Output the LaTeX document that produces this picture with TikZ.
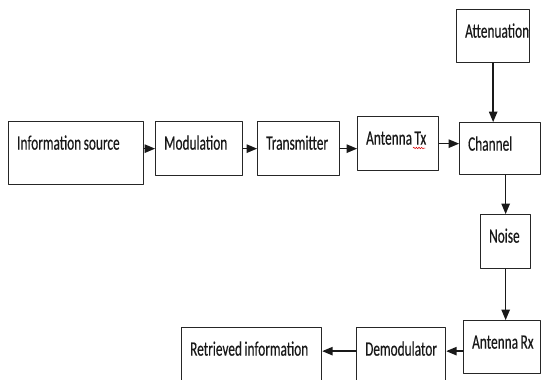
\documentclass[tikz,border=0pt]{standalone}
\usepackage{fontspec}
\setmainfont{Carlito}[FakeStretch=0.65,FakeBold=0.4]
\usepackage{tikz}
\usetikzlibrary{arrows}
\usetikzlibrary{calc}
\usetikzlibrary{decorations.pathmorphing}

\tikzset{
  blk/.style 2 args={draw=black!85,line width=1.3pt,anchor=north west,
    inner xsep=0pt,inner ysep=0pt,align=left,text=black!90,
    text width=#1,text height=28pt,text depth=#2,
    font=\fontsize{20.5}{24}\selectfont,
    execute at begin node={\spaceskip=2.5pt\relax\hspace*{8.5pt}}},
  arr/.style={->,line width=1.4pt,draw=black!90}
}

\begin{document}
\begin{tikzpicture}[line cap=round,line join=round,>=triangle 45,x=1pt,y=-1pt]
\clip (0,0) rectangle (541,380);
% top row
\node[blk={135pt}{35pt}] (src) at (8,121) {Information source};
\node[blk={87pt}{26pt}] (mod) at (155,121) {Modulation};
\node[blk={82pt}{26pt}] (tx) at (257,121) {Transmitter};
\node[blk={81pt}{26pt}] (anttx) at (357,116) {Antenna Tx};
\node[blk={81pt}{24pt}] (chan) at (459,122) {Channel};
\node[blk={73pt}{25pt}] (att) at (456,9) {Attenuation};
% right column and bottom row
\node[blk={50pt}{26pt}] (noise) at (480,214) {Noise};
\node[blk={77pt}{25pt}] (antrx) at (463,320) {Antenna Rx};
\node[blk={89pt}{32pt}] (demod) at (356,327) {Demodulator};
\node[blk={140pt}{32pt}] (ret) at (181,327) {Retrieved information};
% spell check mark
\draw[red!85!black,line width=0.5pt,decorate,decoration={snake,amplitude=0.8pt,segment length=2.6pt}]
  ($(anttx.north west)+(56,32)$) -- ($(anttx.north west)+(68,32)$);
% arrows
\draw[arr] (src.east |- mod.west) -- (mod.west);
\draw[arr] (mod.east) -- (tx.west);
\draw[arr] (tx.east) -- (tx.east -| anttx.west);
\draw[arr] (anttx.east) -- (anttx.east -| chan.west);
\draw[arr] (att.south) -- (att.south |- chan.north);
\draw[arr] (noise.north |- chan.south) -- (noise.north);
\draw[arr] (noise.south) -- (noise.south |- antrx.north);
\draw[arr] ([yshift=-4pt]antrx.west) -- ([yshift=-4pt]antrx.west -| demod.east);
\draw[arr] ([yshift=-4pt]antrx.west -| demod.west) -- ([yshift=-4pt]antrx.west -| ret.east);
\end{tikzpicture}
\end{document}
